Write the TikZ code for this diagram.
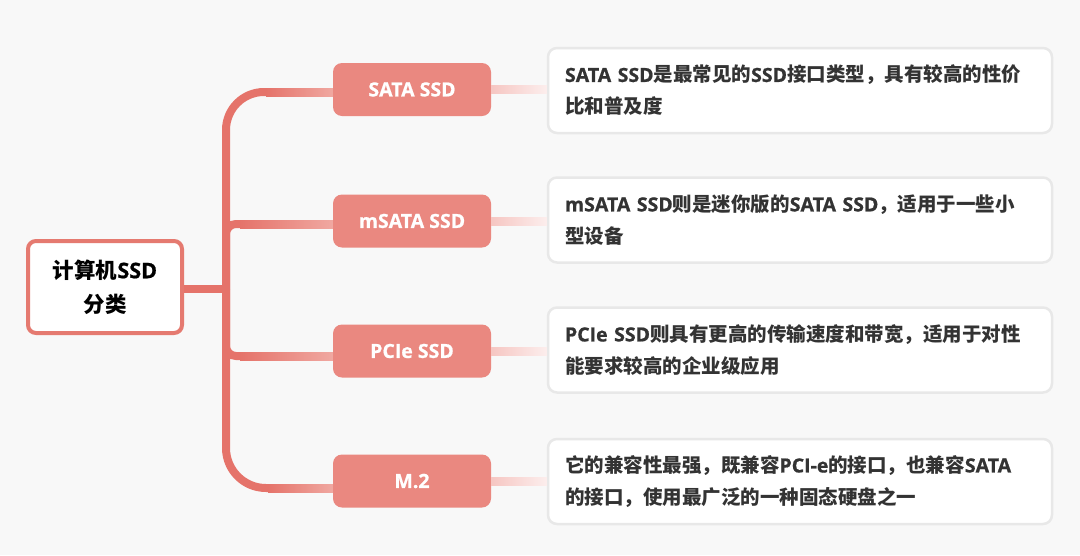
\documentclass[tikz,border=0pt]{standalone}
\usepackage{fontspec}
\setmainfont{Open Sans}[BoldFeatures={FakeBold=0.8}]
\newfontfamily\cj{Noto Sans CJK SC}
\usetikzlibrary{calc}
\definecolor{bg}{HTML}{F8F8F8}
\definecolor{trunkc}{HTML}{E5736A}
\definecolor{branchc}{HTML}{EA8880}
\definecolor{barend}{HTML}{F0A8A1}
\definecolor{rootb}{HTML}{E57A70}
\definecolor{linkA}{HTML}{F6C6C2}
\definecolor{linkB}{HTML}{FCEEED}
\definecolor{boxb}{HTML}{E8E8E8}
\definecolor{txt}{HTML}{333333}
\newcommand\C[1]{{\cj #1}}
\begin{document}
\begin{tikzpicture}[x=1pt,y=-1pt,
 rootbox/.style={draw=rootb, line width=4pt, fill=white, rounded corners=8pt,
   minimum width=154pt, minimum height=92pt, align=center, inner sep=0pt,
   text=black, font=\fontsize{21.5}{34}\selectfont\bfseries},
 branchbox/.style={fill=branchc, rounded corners=9pt, minimum width=158pt,
   minimum height=53pt, inner sep=0pt, text=white,
   font=\fontsize{19.5}{24}\selectfont\bfseries},
 descbox/.style={draw=boxb, line width=2.5pt, fill=white, rounded corners=9pt,
   minimum width=504pt, minimum height=85pt, text width=470pt, inner xsep=17pt,
   inner ysep=0pt, align=left, text=txt,
   font=\fontsize{19.5}{32}\selectfont\bfseries},
 trunk/.style={draw=trunkc, line width=8pt},
]
\fill[bg] (0,0) rectangle (1080,555);
\useasboundingbox (0,0) rectangle (1080,555);

% nodes
\node[rootbox] (root) at (105,287) {\C{计算机}SSD\\\C{分类}};
\node[branchbox] (sata) at (412,89.5) {SATA SSD};
\node[branchbox] (msata) at (412,221) {mSATA SSD};
\node[branchbox] (pcie) at (412,351) {PCIe SSD};
\node[branchbox] (m2) at (412,481) {M.2};

\node[descbox] (d1) at (800,90.5) {\mbox{SATA SSD\C{是最常见的}SSD\C{接口类型，具有较高的性价}}\\\mbox{\C{比和普及度}}};
\node[descbox] (d2) at (800,220) {\mbox{mSATA SSD\C{则是迷你版的}SATA SSD\C{，适用于一些小}}\\\mbox{\C{型设备}}};
\node[descbox] (d3) at (800,350) {\mbox{PCIe SSD\C{则具有更高的传输速度和带宽，适用于对性}}\\\mbox{\C{能要求较高的企业级应用}}};
\node[descbox] (d4) at (800,481.5) {\mbox{\C{它的兼容性最强，既兼容}PCI-e\C{的接口，也兼容}SATA}\\\mbox{\C{的接口，使用最广泛的一种固态硬盘之一}}};

% tree connectors
\coordinate (j) at (226,289);
\coordinate (c1) at (266,92);
\coordinate (c2) at (240,224);
\coordinate (c3) at (240,356);
\coordinate (c4) at (268,488);

\draw[trunk] (root.east |- j) -- (j);
\draw[trunk, rounded corners=38pt] (j) -- (j |- c1) -- (c1);
\draw[trunk, rounded corners=10pt] (j) -- (j |- c2) -- (c2);
\draw[trunk, rounded corners=10pt] (j) -- (j |- c3) -- (c3);
\draw[trunk, rounded corners=40pt] (j) -- (j |- c4) -- (c4);

\shade[left color=trunkc, right color=barend] ($(c1)+(0,-4)$) rectangle ($(sata.west |- c1)+(0,4)$);
\shade[left color=trunkc, right color=barend] ($(c2)+(0,-4)$) rectangle ($(msata.west |- c2)+(0,4)$);
\shade[left color=trunkc, right color=barend] ($(c3)+(0,-4)$) rectangle ($(pcie.west |- c3)+(0,4)$);
\shade[left color=trunkc, right color=barend] ($(c4)+(0,-4)$) rectangle ($(m2.west |- c4)+(0,4)$);

% links to descriptions
\shade[left color=linkA, right color=linkB] ($(sata.east)+(0,-4)$) rectangle ($(d1.west |- sata.east)+(0,4)$);
\shade[left color=linkA, right color=linkB] ($(msata.east)+(0,-4)$) rectangle ($(d2.west |- msata.east)+(0,4)$);
\shade[left color=linkA, right color=linkB] ($(pcie.east)+(0,-4)$) rectangle ($(d3.west |- pcie.east)+(0,4)$);
\shade[left color=linkA, right color=linkB] ($(m2.east)+(0,-4)$) rectangle ($(d4.west |- m2.east)+(0,4)$);
\end{tikzpicture}
\end{document}
